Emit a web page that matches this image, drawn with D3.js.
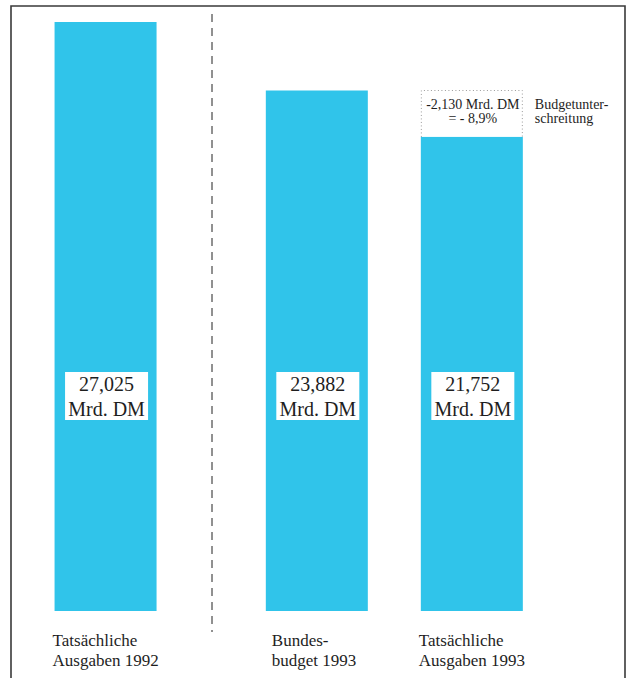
<!DOCTYPE html>
<html><head><meta charset="utf-8">
<script src="https://cdn.jsdelivr.net/npm/d3@7"></script>
<style>
html,body{margin:0;padding:0;background:#fff;}
svg{display:block;}
svg text{font-family:"Liberation Serif","Times New Roman","DejaVu Serif",serif;fill:#1e1e1e;}
</style></head>
<body>
<svg id="chart" width="629" height="678"></svg>
<script>
// ---- data ----
const categories = ["Tatsächliche Ausgaben 1992", "Bundesbudget 1993", "Tatsächliche Ausgaben 1993"];
const values = [27.025, 23.882, 21.752];          // Mrd. DM
const panels = ["1992", "1993"];
const panelOf = ["1992", "1993", "1993"];
const labelLines = [["Tatsächliche", "Ausgaben 1992"], ["Bundes-", "budget 1993"], ["Tatsächliche", "Ausgaben 1993"]];
const unit = "Mrd. DM";
const budgetIndex = 1, actualIndex = 2;
const sideNote = ["Budgetunter-", "schreitung"];

// ---- layout ----
const W = 629, H = 678;
const frame = {left: 11, top: 6, right: 625};
const divider = 212;
const baseY = 611, topY = 22;
const barW = 102;
const cyan = "#30c4ea";
const serif = "Liberation Serif, Times New Roman, DejaVu Serif, serif";

const de = d3.formatLocale({decimal: ",", thousands: ".", grouping: [3], currency: ["", " DM"]});
const fmt3 = de.format(".3f"), fmt1 = de.format(".1f");

const svg = d3.select("#chart").attr("font-family", serif);

const y = d3.scaleLinear().domain([0, d3.max(values)]).range([baseY, topY]);

// one band scale per panel (left panel / right panel separated by dashed divider)
const panelRange = {"1992": [frame.left, divider], "1993": [divider, frame.right]};
const panelAlign = {"1992": 0.44, "1993": 0.345};
const xScales = {};
panels.forEach(p => {
  const cats = categories.filter((c, i) => panelOf[i] === p);
  const r = panelRange[p];
  const n = cats.length;
  const sc = d3.scaleBand().domain(cats).range(r);
  if (n === 1) {
    const po = ((r[1] - r[0]) / barW - 1) / 2;
    sc.paddingInner(0).paddingOuter(po);
  } else {
    sc.paddingInner(0.342);
    const step = barW / (1 - 0.342);
    const po = ((r[1] - r[0]) / step - (n - 0.342)) / 2;
    sc.paddingOuter(po);
  }
  sc.align(panelAlign[p]);
  xScales[p] = sc;
});
const xOf = i => xScales[panelOf[i]](categories[i]);
const bwOf = i => xScales[panelOf[i]].bandwidth();

// frame
svg.append("path")
  .attr("d", `M${frame.left},${H + 2}V${frame.top}H${frame.right}V${H + 2}`)
  .attr("fill", "none").attr("stroke", "#3a3a3a").attr("stroke-width", 1.6);

// divider
svg.append("line")
  .attr("x1", divider).attr("x2", divider).attr("y1", 14).attr("y2", 632)
  .attr("stroke", "#222").attr("stroke-width", 1).attr("stroke-dasharray", "8,6");

// bars
svg.selectAll("rect.bar").data(values).join("rect")
  .attr("class", "bar")
  .attr("x", (d, i) => xOf(i))
  .attr("width", (d, i) => bwOf(i))
  .attr("y", d => y(d))
  .attr("height", d => y(0) - y(d))
  .attr("fill", cyan);

// value boxes
const boxW = 83, boxH = 48, boxTop = 372;
const vg = svg.selectAll("g.val").data(values).join("g").attr("class", "val")
  .attr("transform", (d, i) => `translate(${xOf(i) + bwOf(i) / 2 + 1},${boxTop})`);
vg.append("rect").attr("x", -boxW / 2).attr("width", boxW).attr("height", boxH).attr("fill", "#fff");
vg.append("text").attr("text-anchor", "middle").attr("y", 19).attr("font-size", 20)
  .attr("font-family", serif).text(d => fmt3(d));
vg.append("text").attr("text-anchor", "middle").attr("y", 44).attr("font-size", 20)
  .attr("font-family", serif).text(unit);

// budget shortfall annotation
const diff = values[budgetIndex] - values[actualIndex];
const pct = diff / values[budgetIndex] * 100;
const ax = xOf(actualIndex), aw = bwOf(actualIndex);
const yb = y(values[budgetIndex]), ya = y(values[actualIndex]);
svg.append("path")
  .attr("d", `M${ax + 0.5},${ya}V${yb}H${ax + aw - 0.5}V${ya}`)
  .attr("fill", "none").attr("stroke", "#9a9a9a").attr("stroke-width", 1)
  .attr("stroke-dasharray", "1,2.5");
const amid = ax + aw / 2;
svg.append("text").attr("x", amid + 1).attr("y", yb + 18).attr("text-anchor", "middle")
  .attr("font-size", 14).attr("font-family", serif).text(`-${fmt3(diff)} ${unit}`);
svg.append("text").attr("x", amid + 1).attr("y", yb + 32).attr("text-anchor", "middle")
  .attr("font-size", 14).attr("font-family", serif).text(`= - ${fmt1(pct)}%`);
svg.selectAll("text.side").data(sideNote).join("text").attr("class", "side")
  .attr("x", ax + aw + 12).attr("y", (d, i) => yb + 18 + i * 14)
  .attr("font-size", 14).attr("font-family", serif).text(d => d);

// category labels
const labelDx = [-2, 6, -2];
const lg = svg.selectAll("text.cat").data(labelLines).join("text").attr("class", "cat")
  .attr("font-size", 17).attr("font-family", serif)
  .attr("transform", (d, i) => `translate(${xOf(i) + labelDx[i]},646)`);
lg.selectAll("tspan").data(d => d).join("tspan")
  .attr("x", 0).attr("y", (d, j) => j * 20).text(d => d);
</script>
</body></html>
